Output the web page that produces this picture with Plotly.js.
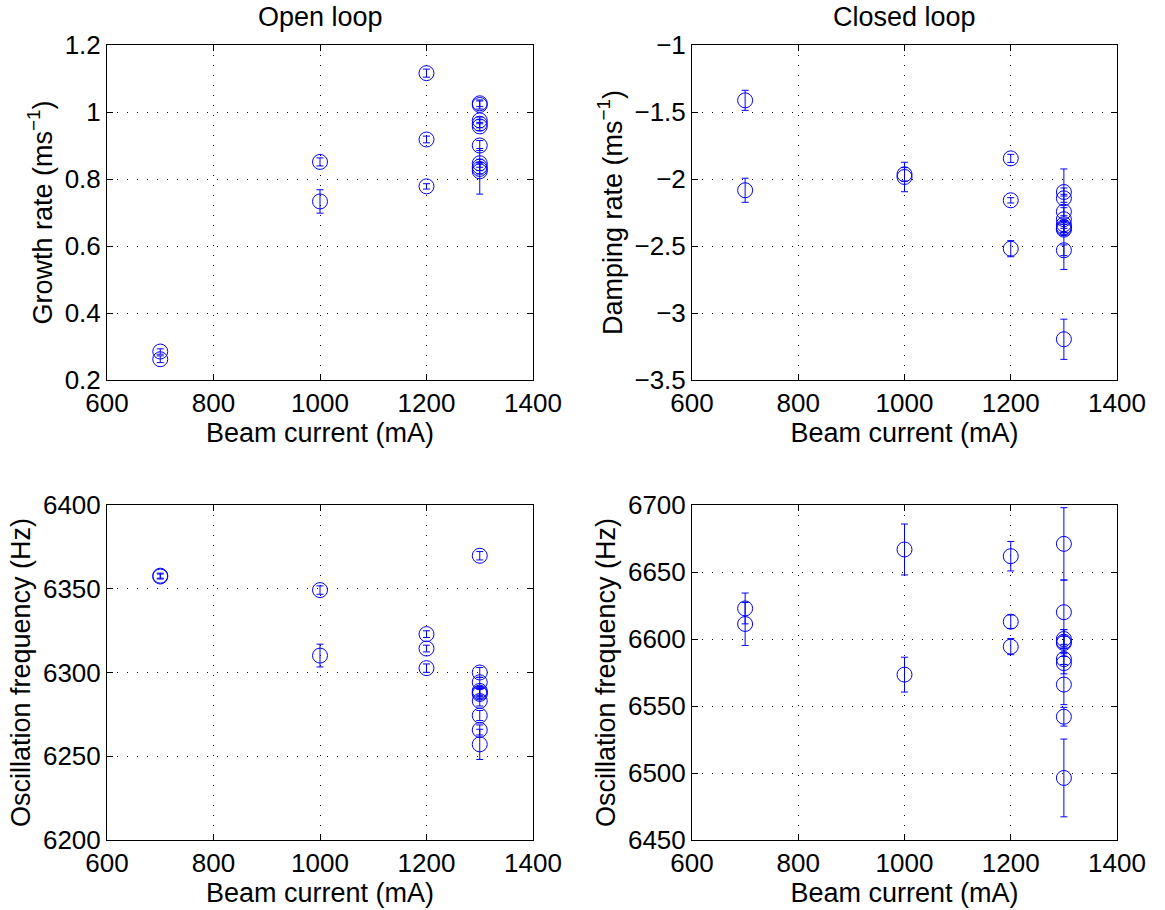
<!DOCTYPE html>
<html>
<head>
<meta charset="utf-8">
<script src="https://cdn.plot.ly/plotly-3.0.1.min.js"></script>
<style>html,body{margin:0;padding:0;background:#fff;}#chart{width:1165px;height:910px;}</style>
</head>
<body>
<div id="chart"></div>
<script>
// Beam currents (mA) for each measurement
const beamCurrent = [700, 700, 1000, 1000, 1200, 1200, 1200,
  1300, 1300, 1300, 1300, 1300, 1300, 1300, 1300, 1300, 1300];

// Open loop growth rate (ms^-1)
const growthRate = [0.285, 0.262, 0.851, 0.733, 1.116, 0.918, 0.778,
  1.026, 1.021, 0.975, 0.965, 0.957, 0.900, 0.847, 0.837, 0.830, 0.823];
const growthErr = [0.008, 0.01, 0.012, 0.035, 0.012, 0.01, 0.008,
  0.01, 0.012, 0.01, 0.012, 0.012, 0.015, 0.012, 0.012, 0.015, 0.068];

// Closed loop damping rate (ms^-1)
const dampingRate = [-1.413, -2.084, -1.965, -1.985, -1.846, -2.159, -2.52,
  -2.097, -2.144, -2.244, -2.300, -2.338, -2.358, -2.368, -2.378, -2.532, -3.196];
const dampingErr = [0.075, 0.09, 0.05, 0.11, 0.03, 0.02, 0.06,
  0.03, 0.03, 0.03, 0.375, 0.03, 0.04, 0.03, 0.04, 0.04, 0.15];

// Open loop oscillation frequency (Hz)
const openFreq = [6357.8, 6357.3, 6349.2, 6310.1, 6322.9, 6314.3, 6302.6,
  6369.7, 6300, 6294.2, 6289, 6288, 6287.2, 6283, 6274.3, 6265.7, 6257.1];
const openFreqErr = [1.5, 1.5, 2.5, 6.8, 2, 2, 2.5,
  2.5, 3, 3, 2.5, 2.5, 3, 3, 3, 3, 9];

// Closed loop oscillation frequency (Hz)
const closedFreq = [6622.8, 6611.2, 6666.8, 6573.4, 6661.8, 6612.9, 6594.3,
  6671, 6620, 6600, 6598, 6597, 6585, 6582, 6566, 6542, 6496.3];
const closedFreqErr = [11.5, 16, 19, 13, 11, 5, 6,
  27, 24, 7, 4, 10, 4, 8, 15, 7, 29];

const panelTitles = ["Open loop", "Closed loop"];
const xTitle = "Beam current (mA)";
const yTitles = ["Growth rate (ms<sup>−1</sup>)", "Damping rate (ms<sup>−1</sup>)",
  "Oscillation frequency (Hz)", "Oscillation frequency (Hz)"];

const W = 1165, H = 910;
const FONT = "Liberation Sans, Arial, Helvetica, sans-serif";
const BLUE = "#0000ff";
const TICK_SIZE = 26, TITLE_SIZE = 27;

function series(y, err, xa, ya) {
  return {
    x: beamCurrent, y: y, xaxis: xa, yaxis: ya,
    type: "scatter", mode: "markers",
    marker: {symbol: "circle-open", size: 15, color: BLUE, line: {width: 1, color: BLUE}},
    error_y: {type: "data", array: err, visible: true, color: BLUE, thickness: 1, width: 3.5},
    cliponaxis: true, showlegend: false, hoverinfo: "x+y"
  };
}

const data = [
  series(growthRate, growthErr, "x", "y"),
  series(dampingRate, dampingErr, "x2", "y2"),
  series(openFreq, openFreqErr, "x3", "y3"),
  series(closedFreq, closedFreqErr, "x4", "y4")
];

const colL = [107 / W, 533 / W];
const colR = [692 / W, 1117 / W];
const rowT = [(H - 380) / H, (H - 45) / H];
const rowB = [(H - 840) / H, (H - 505) / H];

function xax(domain, anchor) {
  return {
    domain: domain, anchor: anchor, range: [600, 1400], tick0: 600, dtick: 200,
    ticks: "inside", ticklen: 6, tickcolor: "#000", mirror: "allticks",
    showline: true, linecolor: "#000", linewidth: 1,
    showgrid: true, gridcolor: "#000", griddash: "1px,9px", gridwidth: 1,
    zeroline: false, tickfont: {size: TICK_SIZE, color: "#000"},
    title: {text: xTitle, font: {size: TITLE_SIZE, color: "#000"}, standoff: 5},
    automargin: false
  };
}
function yax(domain, anchor, range, dtick, title) {
  return {
    domain: domain, anchor: anchor, range: range, tick0: range[0], dtick: dtick,
    ticks: "inside", ticklen: 6, tickcolor: "#000", mirror: "allticks",
    showline: true, linecolor: "#000", linewidth: 1,
    showgrid: true, gridcolor: "#000", griddash: "1px,9px", gridwidth: 1,
    zeroline: false, tickfont: {size: TICK_SIZE, color: "#000"},
    title: {text: title, font: {size: TITLE_SIZE, color: "#000"}, standoff: 4},
    automargin: false
  };
}

const layout = {
  width: W, height: H,
  margin: {l: 0, r: 0, t: 0, b: 0},
  paper_bgcolor: "#fff", plot_bgcolor: "#fff",
  font: {family: FONT, size: TICK_SIZE, color: "#000"},
  showlegend: false,
  xaxis: xax(colL, "y"),
  yaxis: yax(rowT, "x", [0.2, 1.2], 0.2, yTitles[0]),
  xaxis2: xax(colR, "y2"),
  yaxis2: yax(rowT, "x2", [-3.5, -1], 0.5, yTitles[1]),
  xaxis3: xax(colL, "y3"),
  yaxis3: yax(rowB, "x3", [6200, 6400], 50, yTitles[2]),
  xaxis4: xax(colR, "y4"),
  yaxis4: yax(rowB, "x4", [6450, 6700], 50, yTitles[3]),
  annotations: [
    {text: panelTitles[0], xref: "paper", yref: "paper", x: (colL[0] + colL[1]) / 2, y: (H - 17) / H,
     xanchor: "center", yanchor: "middle", showarrow: false, font: {size: TITLE_SIZE, color: "#000"}},
    {text: panelTitles[1], xref: "paper", yref: "paper", x: (colR[0] + colR[1]) / 2, y: (H - 17) / H,
     xanchor: "center", yanchor: "middle", showarrow: false, font: {size: TITLE_SIZE, color: "#000"}}
  ]
};

Plotly.newPlot("chart", data, layout, {staticPlot: true, displayModeBar: false});
</script>
</body>
</html>
